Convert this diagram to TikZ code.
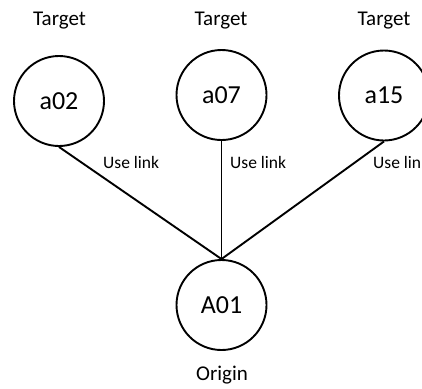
\documentclass[tikz,border=0pt]{standalone}
\usepackage{fontspec}
\setmainfont{Carlito}
\begin{document}
\begin{tikzpicture}[x=1pt,y=-1pt,
  circ/.style={draw,circle,line width=1.9pt,minimum size=90pt,inner sep=0pt,font=\fontsize{26}{30}\selectfont},
  toplabel/.style={anchor=base,font=\fontsize{21}{24}\selectfont},
  linklabel/.style={anchor=base west,inner sep=0pt,font=\fontsize{17.5}{20}\selectfont},
  conn/.style={line width=1.9pt}]
\useasboundingbox (0,0) rectangle (422,388);
\node[circ] (a02) at (59,101) {a02};
\node[circ] (a07) at (221.5,95) {a07};
\node[circ] (a15) at (384,95.5) {a15};
\node[circ] (A01) at (221.5,305) {A01};
\node[toplabel] (t1) at (59.5,25) {Target};
\node[toplabel] (t2) at (221,25) {Target};
\node[toplabel] (t3) at (384,25) {Target};
\node[toplabel] (orig) at (222,380) {Origin};
\draw[conn] (a02.south) -- (A01.north);
\draw[conn] (a07.south) -- (A01.north);
\draw[conn] (a15.south) -- (A01.north);
\node[linklabel] (l1) at (103,168) {Use link};
\node[linklabel] (l2) at (230,168) {Use link};
\node[linklabel] (l3) at (373,168) {Use link};
\end{tikzpicture}
\end{document}
